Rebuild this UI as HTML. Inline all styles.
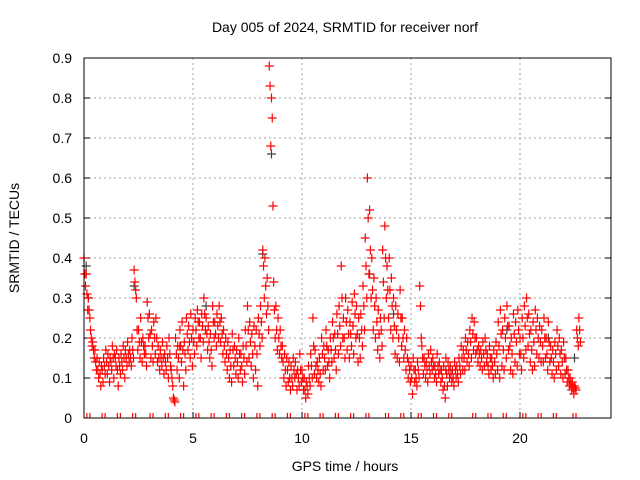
<!DOCTYPE html>
<html><head><meta charset="utf-8"><style>
body{margin:0;background:#fff}
svg{display:block;font-family:"Liberation Sans",sans-serif}
</style></head><body>
<svg id="chart" width="640" height="480" viewBox="0 0 640 480">
<rect width="640" height="480" fill="#fff"/>
<text x="345" y="32" font-size="14" text-anchor="middle">Day 005 of 2024, SRMTID for receiver norf</text>
<text transform="translate(19,238) rotate(-90)" font-size="14" text-anchor="middle">SRMTID / TECUs</text>
<text x="345" y="471" font-size="14" text-anchor="middle">GPS time / hours</text>
<g id="grid"></g>
<g id="ticks"></g>
<g id="marks"></g>
<rect x="84" y="58" width="527" height="360" fill="none" stroke="#000" stroke-width="1"/>
</svg>
<script>
const xTicks=[0,5,10,15,20];
const yTicks=[0,0.1,0.2,0.3,0.4,0.5,0.6,0.7,0.8,0.9];
const yTickLabels=["0","0.1","0.2","0.3","0.4","0.5","0.6","0.7","0.8","0.9"];
const upperVals=[
.40,.36,.30,.22,.19,.17,.15,.14,.13,.15,
.17,.16,.15,.18,.16,.17,.15,.16,.18,.17,
.19,.17,.20,.37,.30,.22,.25,.20,.18,.29,
.26,.22,.24,.25,.18,.17,.19,.16,.18,.20,
.12,.05,.20,.18,.22,.24,.19,.25,.23,.26,
.22,.25,.27,.24,.26,.30,.25,.23,.21,.28,
.24,.26,.28,.25,.22,.20,.19,.17,.21,.18,
.17,.20,.16,.18,.22,.28,.24,.21,.23,.22,
.25,.28,.42,.40,.35,.88,.80,.34,.28,.25,
.22,.18,.16,.15,.14,.13,.15,.14,.12,.16,
.12,.10,.09,.13,.16,.25,.17,.14,.15,.20,
.18,.22,.17,.20,.24,.21,.26,.28,.38,.25,
.30,.27,.24,.29,.31,.28,.25,.26,.33,.45,
.60,.52,.40,.35,.30,.27,.25,.42,.48,.38,
.40,.35,.30,.28,.26,.32,.25,.22,.20,.14,
.13,.15,.12,.14,.33,.18,.15,.14,.16,.17,
.15,.13,.16,.14,.12,.13,.15,.14,.13,.12,
.14,.13,.15,.18,.17,.20,.19,.22,.25,.24,
.20,.18,.17,.19,.20,.16,.18,.15,.17,.19,
.24,.27,.22,.25,.28,.23,.20,.26,.24,.27,
.20,.25,.28,.30,.26,.22,.24,.27,.25,.23,
.22,.25,.20,.24,.18,.17,.19,.22,.20,.17,
.19,.15,.12,.10,.09,.08,.22,.25];
const midVals=[
.36,.31,.27,.20,.17,.14,.12,.11,.12,.13,
.14,.13,.14,.15,.15,.12,.13,.14,.15,.15,
.16,.15,.17,.34,.22,.19,.19,.18,.16,.25,
.21,.18,.20,.20,.15,.15,.15,.14,.15,.16,
.10,.045,.16,.15,.18,.17,.16,.21,.19,.20,
.19,.22,.24,.20,.23,.26,.21,.19,.17,.24,
.21,.23,.24,.21,.18,.16,.15,.13,.17,.15,
.14,.16,.13,.15,.18,.22,.19,.16,.18,.16,
.21,.24,.38,.33,.28,.83,.75,.27,.22,.20,
.18,.14,.12,.12,.10,.10,.12,.11,.10,.12,
.10,.07,.08,.10,.13,.18,.13,.12,.11,.16,
.15,.18,.14,.17,.20,.17,.21,.23,.30,.20,
.24,.21,.21,.23,.26,.21,.20,.22,.28,.38,
.50,.42,.32,.28,.24,.21,.22,.34,.40,.32,
.32,.28,.23,.22,.20,.25,.20,.17,.15,.12,
.10,.12,.10,.12,.28,.15,.13,.12,.13,.14,
.13,.11,.13,.12,.10,.08,.11,.12,.11,.10,
.12,.11,.13,.15,.15,.17,.16,.19,.21,.20,
.17,.16,.15,.16,.17,.13,.15,.13,.14,.16,
.18,.21,.17,.20,.23,.18,.16,.21,.19,.22,
.16,.20,.23,.25,.21,.17,.19,.22,.20,.19,
.18,.20,.16,.19,.15,.14,.16,.18,.16,.14,
.15,.12,.10,.085,.075,.075,.20,.22];
const lowerVals=[
.33,.27,.25,.18,.15,.12,.10,.08,.09,.11,
.11,.09,.12,.10,.13,.08,.11,.12,.10,.13,
.14,.13,.15,.32,.17,.15,.14,.16,.13,.20,
.15,.14,.16,.14,.12,.13,.11,.12,.10,.13,
.08,.04,.12,.10,.14,.08,.12,.17,.15,.13,
.16,.18,.20,.15,.19,.22,.17,.15,.13,.20,
.18,.20,.19,.16,.14,.12,.10,.09,.13,.11,
.10,.12,.09,.11,.14,.15,.13,.10,.12,.08,
.18,.20,.30,.26,.22,.68,.53,.20,.17,.16,
.15,.10,.08,.09,.07,.08,.10,.07,.08,.09,
.07,.05,.06,.08,.10,.11,.10,.09,.08,.12,
.12,.13,.10,.14,.15,.12,.16,.18,.20,.15,
.17,.15,.18,.16,.20,.14,.15,.18,.22,.30,
.36,.30,.22,.20,.17,.15,.18,.25,.30,.25,
.22,.20,.16,.15,.14,.18,.15,.12,.10,.09,
.06,.09,.08,.10,.20,.11,.10,.09,.11,.12,
.10,.09,.11,.09,.07,.05,.08,.10,.09,.08,
.10,.09,.11,.12,.12,.14,.13,.15,.17,.16,
.14,.13,.12,.13,.14,.11,.12,.10,.11,.12,
.10,.13,.12,.15,.17,.12,.11,.14,.13,.16,
.12,.15,.17,.18,.14,.12,.13,.16,.15,.14,
.14,.15,.12,.14,.11,.10,.12,.13,.11,.10,
.11,.09,.08,.07,.06,.07,.18,.19];
const darkTimes=[0.1,0.2,2.3,4.4,5.6,8.2,8.6,11.2,13.1,14.2,16.6,19.4,21.3,22.5];
const darkVals=[0.38,0.30,0.33,0.18,0.28,0.41,0.66,0.17,0.36,0.26,0.12,0.22,0.20,0.15];
const zeroTimes=[0.2,0.9,1.6,2.3,3.1,3.8,4.5,5.2,5.9,6.6,7.3,8.0,8.7,9.4,10.2,10.9,11.6,12.3,13.0,13.9,14.6,15.4,16.1,16.8,17.9,18.6,19.3,20.2,20.9,21.6,22.5];
const xS=h=>84+h*21.8;
const yS=v=>418-v*400;
const NS="http://www.w3.org/2000/svg";
function mk(tag,attrs,parent){const e=document.createElementNS(NS,tag);for(const k in attrs)e.setAttribute(k,attrs[k]);parent.appendChild(e);return e;}
const grid=document.getElementById('grid'),ticks=document.getElementById('ticks'),marks=document.getElementById('marks');
yTicks.forEach((v,i)=>{
  const y=yS(v);
  if(i>0&&i<yTicks.length-1){const g=mk('line',{x1:84,x2:611,y1:y,y2:y,stroke:'#a0a0a0','stroke-dasharray':'2,3','stroke-width':1},grid);
  
  }
  const t=mk('line',{x1:84,x2:90,y1:y,y2:y,stroke:'#000'},ticks);
  
  
  const t2=mk('line',{x1:605,x2:611,y1:y,y2:y,stroke:'#000'},ticks);
  
  
  const l=mk('text',{x:72,y:y+5,'font-size':14,'text-anchor':'end'},ticks);l.textContent=yTickLabels[i];
  
  
});
xTicks.forEach(h=>{
  const x=xS(h);
  if(h>0){const g=mk('line',{x1:x,x2:x,y1:58,y2:418,stroke:'#a0a0a0','stroke-dasharray':'2,3'},grid);
  
  }
  const t=mk('line',{x1:x,x2:x,y1:412,y2:418,stroke:'#000'},ticks);
  
  
  const l=mk('text',{x:x,y:443,'font-size':14,'text-anchor':'middle'},ticks);l.textContent=String(h);
  
  
});
function plus(h,v,color,name){
  const x=xS(h),y=yS(v);
  const p=mk('path',{d:`M${x-4.5},${y}H${x+4.5}M${x},${y-4.5}V${y+4.5}`,stroke:color,'stroke-width':1.2,fill:'none'},marks);
  
  
}
darkTimes.forEach((h,i)=>plus(h,darkVals[i],'#404040','dark-point'));
upperVals.forEach((v,i)=>plus(i*0.1,v,'#ff0000','upper-point'));
midVals.forEach((v,i)=>plus(i*0.1+0.035,v,'#ff0000','mid-point'));
lowerVals.forEach((v,i)=>plus(i*0.1+0.07,v,'#ff0000','lower-point'));
zeroTimes.forEach(h=>{
  const x=xS(h);
  const p=mk('path',{d:`M${x-1.5},413V418M${x+1.5},413V418`,stroke:'#ff0000','stroke-width':1.2},marks);
  
  
});
</script>
</body></html>
